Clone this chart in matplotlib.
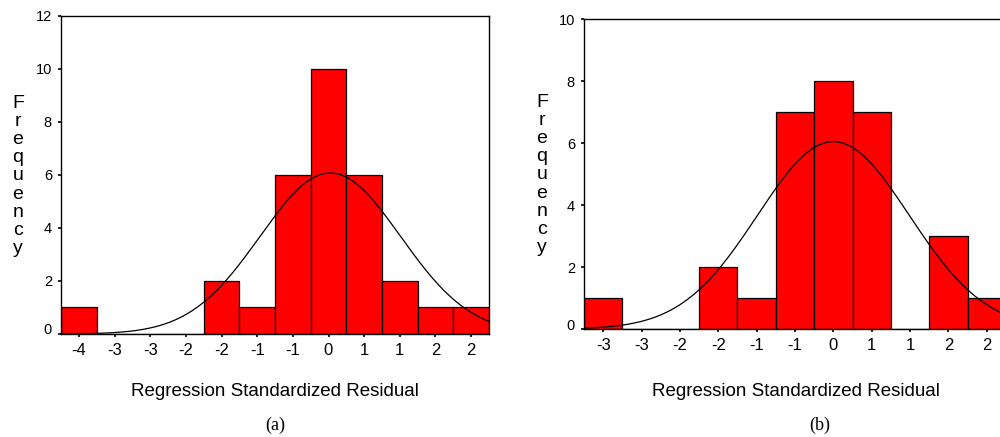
import matplotlib.pyplot as plt
import matplotlib.transforms as mtransforms
import numpy as np

plt.rcParams['font.family'] = ['Liberation Sans', 'DejaVu Sans']

# histogram (a): counts per bin, SPSS rounded bin labels
counts_a = [1, 0, 0, 0, 2, 1, 6, 10, 6, 2, 1, 1]
labels_a = ['-4', '-3', '-3', '-2', '-2', '-1', '-1', '0', '1', '1', '2', '2']
yticks_a = [0, 2, 4, 6, 8, 10, 12]
# normal curve (a), in bin units: centre bin, sd, N
curve_a = dict(mu=7.05, sd=1.97, n=30)

# histogram (b)
counts_b = [1, 0, 0, 2, 1, 7, 8, 7, 0, 3, 1]
labels_b = ['-3', '-3', '-2', '-2', '-1', '-1', '0', '1', '1', '2', '2']
yticks_b = [0, 2, 4, 6, 8, 10]
curve_b = dict(mu=6.0, sd=1.98, n=30)

xlabel = 'Regression Standardized Residual'


def draw_hist(ax, counts, labels, yticks, curve):
    x = np.arange(len(counts))
    ax.bar(x, counts, width=1.0, color='#ff0000', edgecolor='black', linewidth=0.9, zorder=2)
    xx = np.linspace(-0.5, len(counts) - 0.5, 400)
    yy = curve['n'] / (curve['sd'] * np.sqrt(2 * np.pi)) * np.exp(-0.5 * ((xx - curve['mu']) / curve['sd']) ** 2)
    ax.plot(xx, yy, color='black', lw=0.9, zorder=3)
    ax.set_xlim(-0.5, len(counts) - 0.5)
    ax.set_ylim(0, yticks[-1])
    ax.set_xticks(x)
    ax.set_xticklabels(labels, fontsize=12)
    ax.set_yticks(yticks)
    ax.set_yticklabels([str(t) for t in yticks], fontsize=10.5)
    ax.tick_params(axis='both', length=2.5, width=1.2, direction='out', pad=4, colors='black')
    for s in ax.spines.values():
        s.set_linewidth(1.0)
    # SPSS puts the 0 label a bit above its tick
    lab0 = ax.get_yticklabels()[0]
    lab0.set_transform(lab0.get_transform() + mtransforms.ScaledTranslation(0, 5 / 100, ax.figure.dpi_scale_trans))


fig = plt.figure(figsize=(10, 4.37), dpi=100)
ax1 = fig.add_axes([0.061, 0.2357, 0.428, 0.7277])
ax2 = fig.add_axes([0.584, 0.247, 0.422, 0.7095])

draw_hist(ax1, counts_a, labels_a, yticks_a, curve_a)
draw_hist(ax2, counts_b, labels_b, yticks_b, curve_b)

# stacked "Frequency" labels
fig.text(0.018, 1 - 176 / 437, '\n'.join('Frequency'), fontsize=14, ha='center', va='center', linespacing=1.08)
fig.text(0.542, 1 - 175 / 437, '\n'.join('Frequency'), fontsize=14, ha='center', va='center', linespacing=1.08)

fig.text(0.275, 1 - 392 / 437, xlabel, fontsize=13.5, ha='center', va='center')
fig.text(0.796, 1 - 392 / 437, xlabel, fontsize=13.5, ha='center', va='center')

fig.text(0.275, 1 - 425 / 437, '(a)', fontsize=13, ha='center', va='center', family='Liberation Serif')
fig.text(0.820, 1 - 425 / 437, '(b)', fontsize=13, ha='center', va='center', family='Liberation Serif')

fig.savefig('out.png', dpi=100)
